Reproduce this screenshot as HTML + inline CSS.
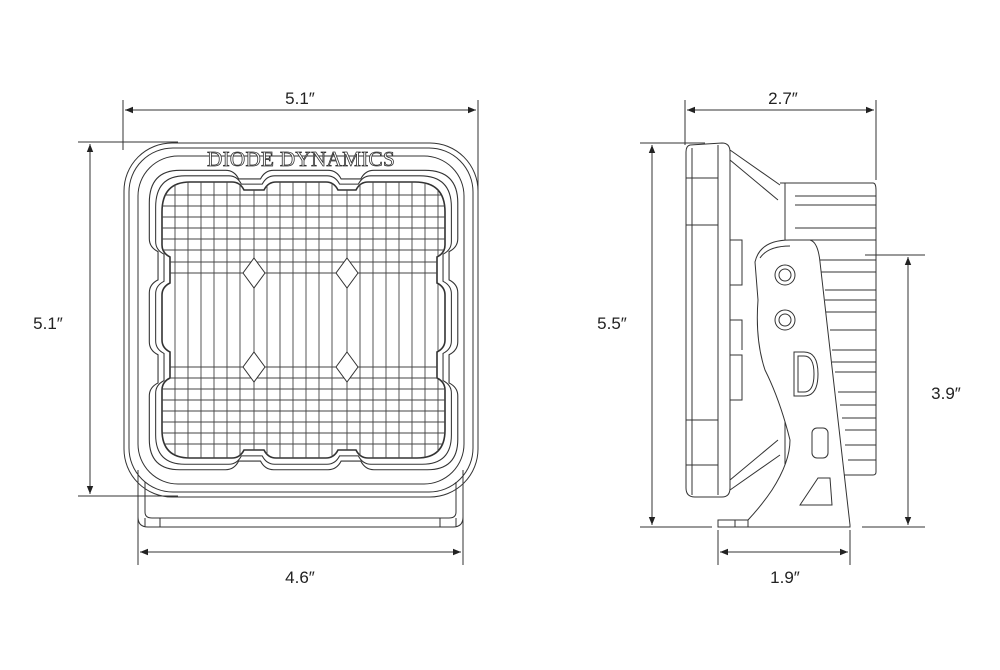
<!DOCTYPE html>
<html><head><meta charset="utf-8"><style>
html,body{margin:0;padding:0;background:#fff;}
svg{display:block}
text{font-family:"Liberation Sans",sans-serif;fill:#222;}
</style></head><body>
<svg width="1000" height="670" viewBox="0 0 1000 670" xmlns="http://www.w3.org/2000/svg">
<defs>
<marker id="a" viewBox="0 0 10 10" refX="10" refY="5" markerWidth="10" markerHeight="8" orient="auto-start-reverse" markerUnits="userSpaceOnUse"><path d="M0 1 L10 5 L0 9 Z" fill="#222"/></marker>
<clipPath id="lc"><path id="lp" d="M190 182 L232 182 Q240 182 244 190 L264 190 Q268 182 276 182 L326 182 Q334 182 338 190 L356 190 Q360 182 368 182 L415 182 Q445 182 445 212 L445 245 Q445 253 437 257 L437 283 Q445 287 445 295 L445 340 Q445 348 437 352 L437 378 Q445 382 445 390 L445 430 Q445 458 417 458 L368 458 Q360 458 356 450 L338 450 Q334 458 326 458 L276 458 Q268 458 264 450 L244 450 Q240 458 232 458 L190 458 Q162 458 162 430 L162 390 Q162 382 170 378 L170 352 Q162 348 162 340 L162 295 Q162 287 170 283 L170 257 Q162 253 162 245 L162 212 Q162 182 190 182 Z"/></clipPath>
</defs>
<g stroke="#333" stroke-width="1" fill="none">
<line x1="123" y1="100" x2="123" y2="150"/><line x1="478" y1="100" x2="478" y2="230"/>
<line x1="125" y1="110" x2="476" y2="110" marker-start="url(#a)" marker-end="url(#a)"/>
<line x1="78" y1="142" x2="178" y2="142"/><line x1="78" y1="496" x2="178" y2="496"/>
<line x1="90" y1="144" x2="90" y2="494" marker-start="url(#a)" marker-end="url(#a)"/>
<line x1="138" y1="510" x2="138" y2="565"/><line x1="463" y1="510" x2="463" y2="565"/>
<line x1="140" y1="552" x2="461" y2="552" marker-start="url(#a)" marker-end="url(#a)"/>
<line x1="685" y1="100" x2="685" y2="145"/><line x1="876" y1="100" x2="876" y2="180"/>
<line x1="687" y1="110" x2="874" y2="110" marker-start="url(#a)" marker-end="url(#a)"/>
<line x1="640" y1="143" x2="705" y2="143"/><line x1="640" y1="527" x2="712" y2="527"/>
<line x1="652" y1="145" x2="652" y2="525" marker-start="url(#a)" marker-end="url(#a)"/>
<line x1="865" y1="255" x2="925" y2="255"/><line x1="862" y1="527" x2="925" y2="527"/>
<line x1="908" y1="257" x2="908" y2="525" marker-start="url(#a)" marker-end="url(#a)"/>
<line x1="718" y1="530" x2="718" y2="565"/><line x1="850" y1="530" x2="850" y2="565"/>
<line x1="720" y1="552" x2="848" y2="552" marker-start="url(#a)" marker-end="url(#a)"/>

<rect x="124" y="143" width="354" height="354" rx="48"/>
<rect x="129" y="148" width="344" height="344" rx="44"/>
<rect x="138" y="156" width="326" height="328" rx="40"/>
<path d="M138 470 L138 517 Q138 527 148 527 L453 527 Q463 527 463 517 L463 470"/>
<path d="M145 482 L145 512 Q145 518 152 518 L449 518 Q456 518 456 512 L456 482"/>
<line x1="145" y1="518" x2="145" y2="527"/><line x1="456" y1="518" x2="456" y2="527"/>
<line x1="160" y1="518" x2="160" y2="527"/><line x1="440" y1="518" x2="440" y2="527"/>
<use href="#lp" transform="translate(303 320) scale(1.09 1.085) translate(-303 -320)"/>
<use href="#lp" transform="translate(303 320) scale(1.045 1.045) translate(-303 -320)"/>
<use href="#lp" stroke-width="1.6"/>
<g clip-path="url(#lc)" stroke="#444" stroke-width="0.9">
<path d="M175 180V460M188 180V460M201 180V460M214 180V460M227 180V460M240 180V460M254 180V460M267 180V460M280 180V460M293 180V460M306 180V460M319 180V460M332 180V460M347 180V460M360 180V460M373 180V460M386 180V460M399 180V460M412 180V460M425 180V460M438 180V460"/>
<path d="M160 195H447M160 206H447M160 217H447M160 228H447M160 239H447M160 250H447M160 262H447M160 273H447M160 367H447M160 378H447M160 389H447M160 400H447M160 411H447M160 422H447M160 433H447M160 444H447"/>
</g>
<g fill="#fff" stroke="#333">
<path d="M254 258 L265 273 L254 288 L243 273 Z"/><path d="M347 258 L358 273 L347 288 L336 273 Z"/>
<path d="M254 352 L265 367 L254 382 L243 367 Z"/><path d="M347 352 L358 367 L347 382 L336 367 Z"/>
</g>
</g>
<text x="301" y="166" text-anchor="middle" style="font-family:'Liberation Serif',serif;font-size:21px;fill:#fff;stroke:#333;stroke-width:0.8;letter-spacing:0.3px" textLength="188" lengthAdjust="spacingAndGlyphs">DIODE DYNAMICS</text>

<g stroke="#333" stroke-width="1" fill="none">
<path d="M690 145 L722 143 Q730 143 730 152 L730 488 Q730 497 722 497 L695 497 Q686 497 686 488 L686 152 Q686 146 690 145 Z"/>
<line x1="692" y1="148" x2="692" y2="495"/><line x1="718" y1="145" x2="718" y2="495"/>
<line x1="686" y1="178" x2="718" y2="178"/><line x1="686" y1="225" x2="718" y2="225"/><line x1="686" y1="420" x2="718" y2="420"/><line x1="686" y1="465" x2="718" y2="465"/>
<path d="M730 150 L780 185 M730 160 L778 200 M730 490 L780 455 M730 480 L778 440"/>
<path d="M730 240 L742 240 L742 285 L730 285 M730 320 L742 320 L742 350 M730 355 L742 355 L742 400 L730 400"/>
<path d="M780 183 L873 183 Q876 183 876 190 L876 472 Q876 475 873 475 L780 475"/>
<path d="M785 183 V475"/>
<path d="M795 196H876M795 205H876M795 228H876M795 240H876M800 260H876M815 272H876M825 290H876M825 300H876M825 312H876M830 330H876M832 350H876M832 362H876M835 372H876M838 392H876M840 405H876M842 418H876M845 430H876M845 445H876M848 460H876"/>
<path d="M755 262 Q760 240 790 240 L810 240 Q818 242 820 262 L850 525 L850 527 L748 527 L748 520 Q762 505 772 490 Q790 462 790 440 Q780 400 765 370 Q755 340 758 300 Z" fill="#fff"/>
<path d="M760 258 Q768 246 790 246"/>
<circle cx="785" cy="275" r="10"/><circle cx="785" cy="275" r="6"/>
<circle cx="785" cy="320" r="10"/><circle cx="785" cy="320" r="6"/>
<path d="M794 352 L804 352 Q818 352 818 374 Q818 396 804 396 L794 396 Z"/>
<path d="M798 356 L804 356 Q814 356 814 374 Q814 392 804 392 L798 392 Z"/>
<rect x="812" y="428" width="16" height="30" rx="5"/>
<path d="M800 505 L818 478 L830 478 L832 505 Z"/>
<path d="M718 520 L748 520 L748 527 L718 527 Z"/><line x1="735" y1="520" x2="735" y2="527"/>
</g>

<text x="300" y="104" text-anchor="middle" font-size="17">5.1″</text>
<text x="48" y="329" text-anchor="middle" font-size="17">5.1″</text>
<text x="300" y="583" text-anchor="middle" font-size="17">4.6″</text>
<text x="783" y="104" text-anchor="middle" font-size="17">2.7″</text>
<text x="612" y="329" text-anchor="middle" font-size="17">5.5″</text>
<text x="946" y="399" text-anchor="middle" font-size="17">3.9″</text>
<text x="785" y="583" text-anchor="middle" font-size="17">1.9″</text>
</svg>
</body></html>
